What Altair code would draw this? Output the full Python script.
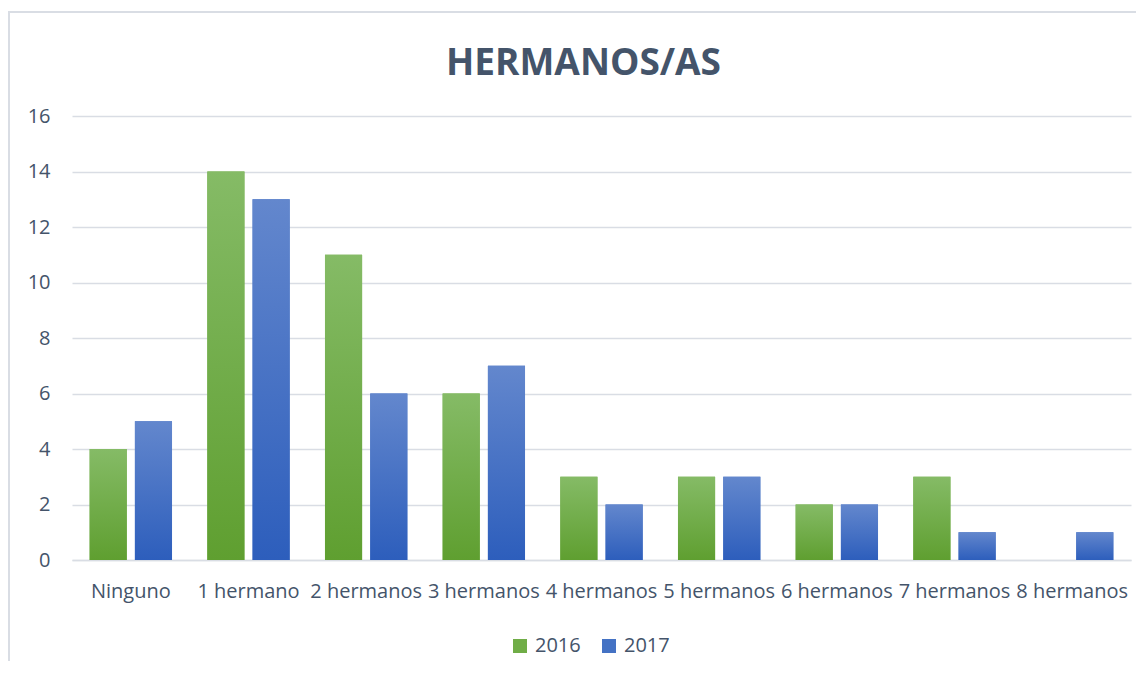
import altair as alt
import pandas as pd

categories = ["Ninguno", "1 hermano", "2 hermanos", "3 hermanos", "4 hermanos",
              "5 hermanos", "6 hermanos", "7 hermanos", "8 hermanos"]
years = ["2016", "2017"]
values_2016 = [4, 14, 11, 6, 3, 3, 2, 3, 0]
values_2017 = [5, 13, 6, 7, 2, 3, 2, 1, 1]
y_ticks = [0, 2, 4, 6, 8, 10, 12, 14, 16]

rows = []
for c, a, b in zip(categories, values_2016, values_2017):
    rows.append({"cat": c, "year": "2016", "value": a})
    rows.append({"cat": c, "year": "2017", "value": b})
df = pd.DataFrame(rows)

TEXT = "#44546a"
GRID = "#d9dde4"
FONT = "Open Sans"
W, H = 1059, 444

green_grad = alt.LinearGradient(gradient="linear", x1=0, y1=0, x2=0, y2=1,
                                stops=[alt.GradientStop(color="#85bb66", offset=0),
                                       alt.GradientStop(color="#5f9f30", offset=1)])
blue_grad = alt.LinearGradient(gradient="linear", x1=0, y1=0, x2=0, y2=1,
                               stops=[alt.GradientStop(color="#6387cd", offset=0),
                                      alt.GradientStop(color="#2d5ebc", offset=1)])

base = alt.Chart(df).encode(
    x=alt.X("cat:N", sort=categories, title=None,
            scale=alt.Scale(paddingInner=0.3, paddingOuter=0.15),
            axis=alt.Axis(labelAngle=0, ticks=False, domain=True, domainColor=GRID,
                          domainWidth=1.5, labelFontSize=20, labelFont=FONT,
                          labelColor=TEXT, labelPadding=21, grid=False,
                          labelOverlap=False, labelLimit=0)),
    xOffset=alt.XOffset("year:N", sort=years, scale=alt.Scale(paddingInner=0.18)),
    y=alt.Y("value:Q", title=None,
            scale=alt.Scale(domain=[0, 16], nice=False),
            axis=alt.Axis(values=y_ticks, ticks=False, domain=False, grid=True,
                          gridColor=GRID, gridWidth=1.5, labelFontSize=20,
                          labelFont=FONT, labelColor=TEXT, labelPadding=22)),
)

legend_layer = base.mark_bar().encode(
    color=alt.Color("year:N", sort=years,
                    scale=alt.Scale(domain=years, range=["#70ad47", "#4472c4"]),
                    legend=alt.Legend(title=None, orient="none", direction="horizontal",
                                      legendX=438, legendY=520, symbolType="square",
                                      symbolSize=196, symbolStrokeWidth=0,
                                      labelFontSize=20, labelFont=FONT, labelColor=TEXT,
                                      labelOffset=5, columnPadding=18, padding=0))
)

green_layer = base.mark_bar(color=green_grad).transform_filter(alt.datum.year == "2016")
blue_layer = base.mark_bar(color=blue_grad).transform_filter(alt.datum.year == "2017")

frame = alt.Chart(pd.DataFrame({"f": [0]})).mark_rect(
    fill=None, stroke=GRID, strokeWidth=2, clip=False
).encode(x=alt.value(-63), x2=alt.value(W + 40), y=alt.value(-104), y2=alt.value(H + 200))

chart = alt.layer(frame, legend_layer, green_layer, blue_layer).properties(
    width=W, height=H,
    title=alt.Title("HERMANOS/AS", fontSize=37, font=FONT, fontWeight="bold",
                    color=TEXT, anchor="middle", frame="group", dx=-18, offset=-72),
    autosize=alt.AutoSizeParams(type="none"),
    padding={"left": 64, "top": 108, "right": 5, "bottom": 101},
).configure(background="white").configure_view(stroke=None)

chart.save("out.html", embed_options={"renderer": "svg", "actions": False})
